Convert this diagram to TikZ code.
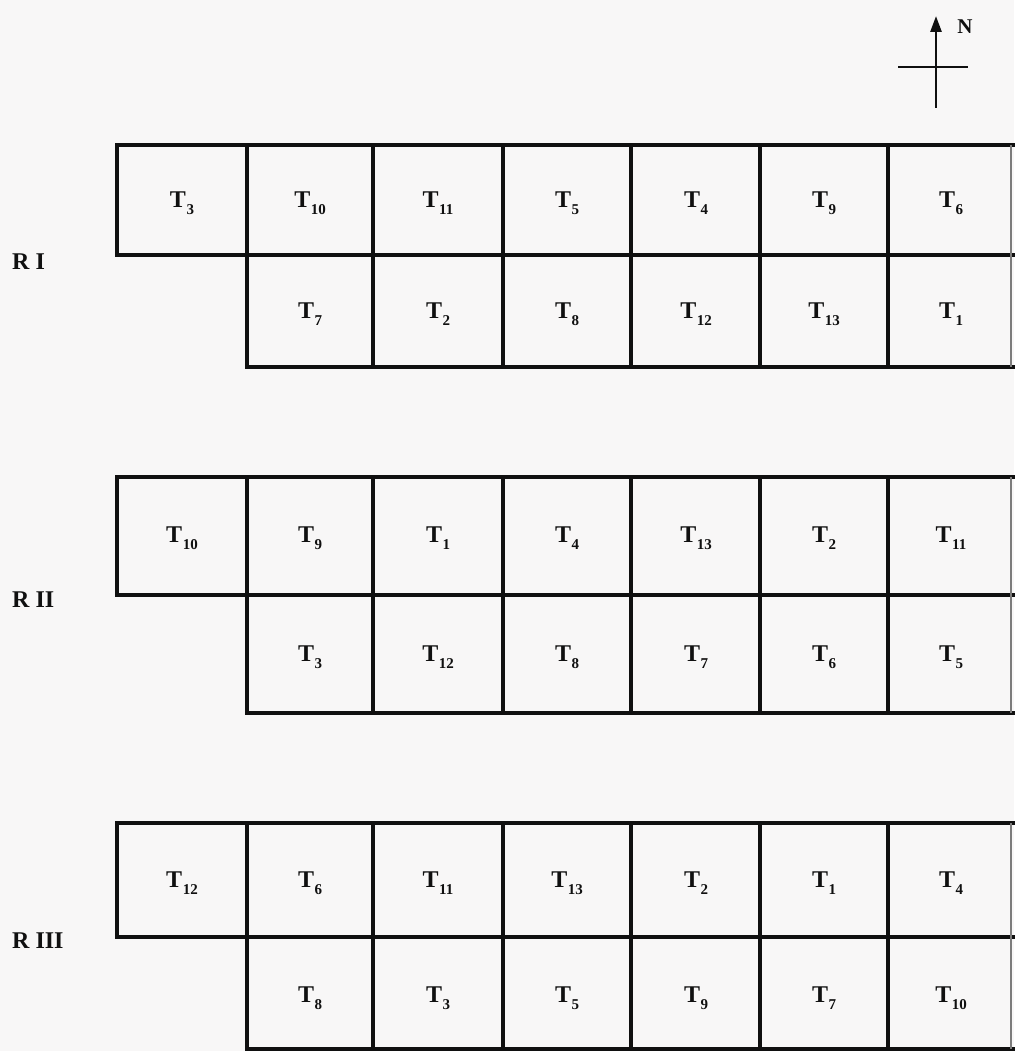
\documentclass[tikz,border=0pt]{standalone}
\usepackage{fontspec}
\setmainfont{Liberation Serif}
\usetikzlibrary{arrows.meta}
\definecolor{paper}{HTML}{F8F7F7}
\definecolor{ink}{HTML}{101010}
% plot label: bold T with a lowered, smaller treatment number
\newcommand\plt[1]{\textbf{T\kern0.5pt\raisebox{-0.3em}{\fontsize{15}{15}\selectfont\bfseries #1}}}
\tikzset{
  grid/.style={draw=ink, line width=3.6pt, line join=miter, line cap=rect},
  edge/.style={draw=ink!55, line width=1.2pt},
  plotlbl/.style={font=\fontsize{24}{24}\selectfont, text=ink, inner sep=0pt},
  replbl/.style={font=\fontsize{24}{24}\selectfont\bfseries, text=ink, anchor=west, inner sep=0pt},
  compass/.style={draw=ink, line width=2.6pt}
}
\begin{document}
\begin{tikzpicture}[x=1pt,y=-1pt]
\fill[paper] (0,0) rectangle (1014,1051);
\useasboundingbox (0,0) rectangle (1014,1051);

% north arrow
\coordinate (nfoot) at (936,108);
\coordinate (ntip) at (936,16);
\coordinate (ewest) at (898,67);
\coordinate (eeast) at (968,67);
\draw[compass, -{Triangle[width=11pt,length=16pt]}] (nfoot) -- (ntip);
\draw[compass] (ewest) -- (eeast);
\node[font=\fontsize{21}{21}\selectfont\bfseries, text=ink, inner sep=0pt] (north) at (965,27) {N};

% one replication block: #1 top, #2 middle, #3 bottom
\newcommand\replblock[3]{%
  \draw[grid] (1014,#1) -- (117,#1) -- (117,#2) -- (1014,#2);
  \draw[grid] (247,#2) -- (247,#3) -- (1014,#3);
  \foreach \xx in {247,373,503,631,760,888}
    \draw[grid] (\xx,#1) -- (\xx,#3);
  \draw[edge] (1011,#1) -- (1011,#3);
}

% Replication I
\replblock{145}{255}{367}
\node[replbl] (rI) at (12,262) {R I};
\foreach \x/\t [count=\i] in {182/3,310/10,438/11,567/5,696/4,824/9,951/6}
  \node[plotlbl] (a\i) at (\x,203) {\plt{\t}};
\foreach \x/\t [count=\i] in {310/7,438/2,567/8,696/12,824/13,951/1}
  \node[plotlbl] (b\i) at (\x,314) {\plt{\t}};

% Replication II
\replblock{477}{595}{713}
\node[replbl] (rII) at (12,600) {R II};
\foreach \x/\t [count=\i] in {182/10,310/9,438/1,567/4,696/13,824/2,951/11}
  \node[plotlbl] (c\i) at (\x,538) {\plt{\t}};
\foreach \x/\t [count=\i] in {310/3,438/12,567/8,696/7,824/6,951/5}
  \node[plotlbl] (d\i) at (\x,657) {\plt{\t}};

% Replication III
\replblock{823}{937}{1049}
\node[replbl] (rIII) at (12,941) {R III};
\foreach \x/\t [count=\i] in {182/12,310/6,438/11,567/13,696/2,824/1,951/4}
  \node[plotlbl] (e\i) at (\x,883) {\plt{\t}};
\foreach \x/\t [count=\i] in {310/8,438/3,567/5,696/9,824/7,951/10}
  \node[plotlbl] (f\i) at (\x,998) {\plt{\t}};
\end{tikzpicture}
\end{document}
